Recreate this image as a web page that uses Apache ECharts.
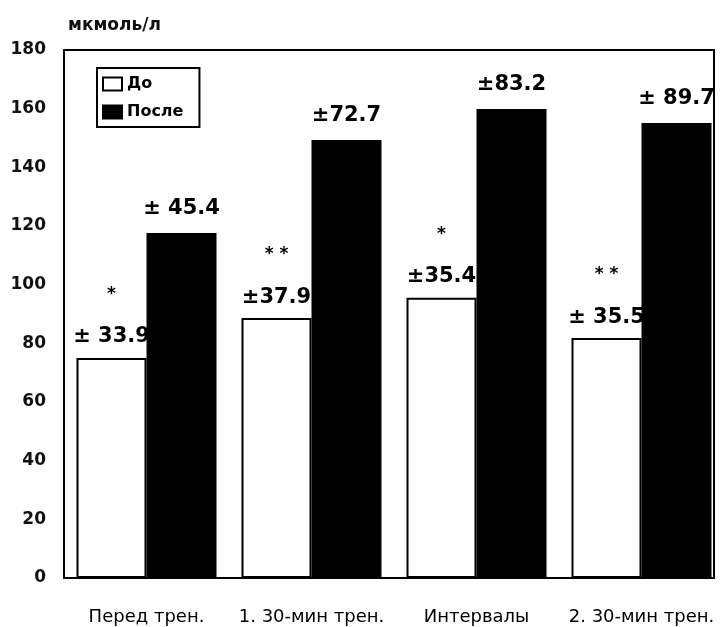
<!DOCTYPE html>
<html>
<head>
<meta charset="utf-8">
<script src="https://cdn.jsdelivr.net/npm/echarts@6/dist/echarts.min.js"></script>
<style>
  html, body { margin: 0; padding: 0; background: #fff; }
  #chart { width: 725px; height: 627px; }
</style>
</head>
<body>
<div id="chart"></div>
<script>
const categories = ['Перед трен.', '1. 30-мин трен.', 'Интервалы', '2. 30-мин трен.'];
const beforeValues = [75, 88.6, 95.5, 81.8];
const afterValues = [117.6, 149.3, 159.9, 155.1];
const beforeErr = ['± 33.9', '±37.9', '±35.4', '± 35.5'];
const afterErr = ['± 45.4', '±72.7', '±83.2', '± 89.7'];
const beforeStars = ['*', '* *', '*', '* *'];
const yTicks = [0, 20, 40, 60, 80, 100, 120, 140, 160, 180];

const FONT = 'DejaVu Sans';

const chart = echarts.init(document.getElementById('chart'));

chart.setOption({
    animation: false,
    backgroundColor: '#fff',
    title: {
        text: 'мкмоль/л',
        left: 63,
        top: 12,
        textStyle: { fontFamily: FONT, fontSize: 17, fontWeight: 'bold', color: '#111' }
    },
    legend: {
        orient: 'vertical',
        left: 97,
        top: 68,
        borderColor: '#000',
        borderWidth: 2,
        padding: [8, 16, 7, 5],
        itemGap: 12,
        itemWidth: 19,
        itemHeight: 13,
        icon: 'rect',
        textStyle: { fontFamily: FONT, fontSize: 16, fontWeight: 'bold', color: '#000' },
        data: ['До', 'После']
    },
    grid: { left: 64, right: 1, top: 50, bottom: 49 },
    graphic: [{
        type: 'rect',
        shape: { x: 64, y: 50, width: 650, height: 528 },
        style: { fill: 'none', stroke: '#000', lineWidth: 2 },
        z: 10
    }],
    xAxis: {
        type: 'category',
        data: categories,
        axisLine: { show: false },
        axisTick: { show: false },
        axisLabel: { interval: 0, fontFamily: FONT, fontSize: 18, color: '#000', margin: 30 }
    },
    yAxis: {
        type: 'value',
        min: yTicks[0],
        max: yTicks[yTicks.length - 1],
        interval: 20,
        splitLine: { show: false },
        axisLine: { show: false },
        axisTick: { show: false },
        axisLabel: { fontFamily: FONT, fontSize: 17, fontWeight: 'bold', color: '#111', margin: 18 }
    },
    series: [
        {
            name: 'До',
            type: 'bar',
            barWidth: 70,
            barGap: '0%',
            data: beforeValues,
            itemStyle: { color: '#fff', borderColor: '#000', borderWidth: 2 },
            label: {
                show: true,
                position: 'top',
                distance: 8,
                formatter: p => '{s|' + beforeStars[p.dataIndex] + '}\n{e|' + beforeErr[p.dataIndex] + '}',
                rich: {
                    s: { fontFamily: FONT, fontSize: 17, fontWeight: 'bold', color: '#000', lineHeight: 38, verticalAlign: 'top' },
                    e: { fontFamily: FONT, fontSize: 21, fontWeight: 'bold', color: '#000', lineHeight: 26 }
                }
            }
        },
        {
            name: 'После',
            type: 'bar',
            barWidth: 70,
            data: afterValues,
            itemStyle: { color: '#000', borderColor: '#000', borderWidth: 2 },
            label: {
                show: true,
                position: 'top',
                distance: 14,
                formatter: p => afterErr[p.dataIndex],
                fontFamily: FONT,
                fontSize: 21,
                fontWeight: 'bold',
                color: '#000'
            }
        }
    ]
});
</script>
</body>
</html>
